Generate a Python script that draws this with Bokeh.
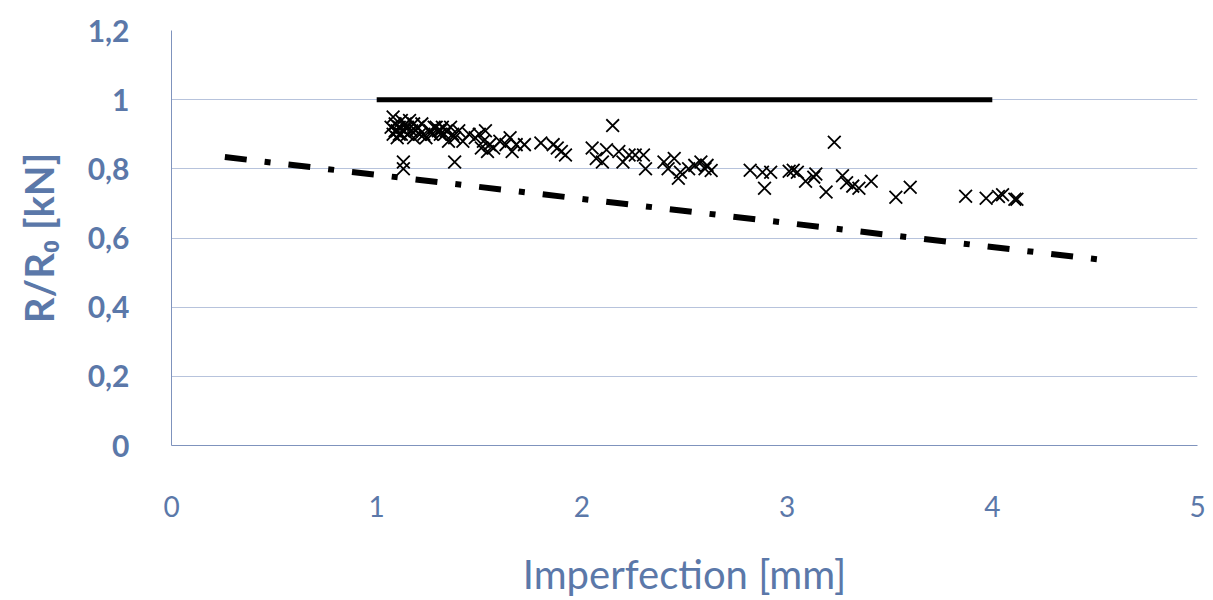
from bokeh.plotting import figure
from bokeh.models import FixedTicker, Range1d
from bokeh.embed import file_html
from bokeh.resources import INLINE

# Measured test specimens: imperfection [mm] vs. normalised resistance R/R0
imperfection = [
    1.07, 1.08, 1.08, 1.09, 1.10, 1.10, 1.11, 1.12, 1.12, 1.13, 1.14, 1.15,
    1.15, 1.16, 1.17, 1.18, 1.18, 1.20, 1.21, 1.22, 1.24, 1.26, 1.27, 1.28,
    1.30, 1.31, 1.32, 1.33, 1.34, 1.35, 1.36, 1.38, 1.40, 1.42, 1.45, 1.48,
    1.50, 1.51, 1.52, 1.53, 1.54, 1.55, 1.57, 1.60, 1.63, 1.65, 1.66, 1.68,
    1.72, 1.13, 1.13, 1.38, 1.09, 1.11, 1.14, 1.19, 1.23, 1.29, 1.31, 1.37,
    1.80, 1.86, 1.88, 1.90, 1.92, 2.05, 2.07, 2.10, 2.12, 2.15, 2.18, 2.20,
    2.23, 2.26, 2.30, 2.31, 2.40, 2.42, 2.45, 2.47, 2.48, 2.52, 2.55, 2.58,
    2.60, 2.61, 2.63, 2.82, 2.88, 2.89, 2.92, 3.01, 3.03, 3.05, 3.09, 3.13,
    3.14, 3.19, 3.23, 3.27, 3.29, 3.32, 3.35, 3.41, 3.53, 3.60, 3.87, 3.97,
    4.03, 4.05, 4.11, 4.12,
]
resistance = [
    0.92, 0.95, 0.90, 0.93, 0.91, 0.89, 0.92, 0.90, 0.94, 0.91, 0.93, 0.90,
    0.92, 0.94, 0.91, 0.89, 0.93, 0.92, 0.90, 0.93, 0.89, 0.91, 0.90, 0.92,
    0.91, 0.90, 0.92, 0.90, 0.91, 0.88, 0.92, 0.89, 0.91, 0.88, 0.90, 0.89,
    0.90, 0.86, 0.88, 0.91, 0.85, 0.87, 0.86, 0.88, 0.87, 0.89, 0.85, 0.87,
    0.87, 0.82, 0.80, 0.82, 0.91, 0.90, 0.92, 0.91, 0.90, 0.92, 0.91, 0.90,
    0.875, 0.87, 0.86, 0.85, 0.84, 0.86, 0.83, 0.82, 0.855, 0.925, 0.85, 0.82,
    0.84, 0.84, 0.84, 0.80, 0.82, 0.80, 0.83, 0.773, 0.79, 0.80, 0.81, 0.82,
    0.80, 0.81, 0.795, 0.796, 0.79, 0.744, 0.79, 0.793, 0.796, 0.79, 0.764, 0.776,
    0.785, 0.733, 0.877, 0.78, 0.76, 0.75, 0.744, 0.764, 0.718, 0.747, 0.721, 0.715,
    0.72, 0.725, 0.712, 0.712,
]

# Reference level R/R0 = 1
ref_x = [1.0, 4.0]
ref_y = [1.0, 1.0]

# Design curve
design_x = [0.26, 4.53]
design_y = [0.834, 0.537]

x_ticks = [0, 1, 2, 3, 4, 5]
y_ticks = [0, 0.2, 0.4, 0.6, 0.8, 1.0, 1.2]
y_tick_labels = ["0", "0,2", "0,4", "0,6", "0,8", "1", "1,2"]

axis_color = "#5b78a9"
font = "Lato"

p = figure(
    width=1213, height=600,
    output_backend="svg", toolbar_location=None,
    x_range=Range1d(0, 5), y_range=Range1d(0, 1.2),
    min_border_left=171, min_border_right=16,
    min_border_top=30, min_border_bottom=149,
)
p.outline_line_color = None
p.background_fill_color = "white"
p.border_fill_color = "white"

p.xgrid.grid_line_color = None
p.ygrid.grid_line_color = "#b7c3dc"
p.ygrid.grid_line_width = 1
p.ygrid.ticker = FixedTicker(ticks=y_ticks)

p.xaxis.ticker = FixedTicker(ticks=x_ticks)
p.yaxis.ticker = FixedTicker(ticks=y_ticks)
p.yaxis.major_label_overrides = {t: l for t, l in zip(y_ticks, y_tick_labels)}

for ax in (p.xaxis[0], p.yaxis[0]):
    ax.axis_line_color = "#7f93bd"
    ax.axis_line_width = 1
    ax.major_tick_line_color = None
    ax.minor_tick_line_color = None
    ax.major_label_text_color = axis_color
    ax.major_label_text_font = font
    ax.axis_label_text_color = axis_color
    ax.axis_label_text_font = font

p.xaxis.major_label_text_font_size = "28px"
p.yaxis.major_label_text_font_size = "30px"
p.yaxis.major_label_text_font_style = "bold"
p.xaxis.axis_label_text_font_size = "40px"
p.xaxis.axis_label_text_font_style = "normal"
p.yaxis.axis_label_text_font_size = "40px"
p.yaxis.axis_label_text_font_style = "bold"

p.xaxis.major_label_standoff = 44
p.yaxis.major_label_standoff = 36
p.xaxis.axis_label = "Imperfection [mm]"
p.yaxis.axis_label = "R/R\u2080 [kN]"
p.xaxis.axis_label_standoff = 30
p.yaxis.axis_label_standoff = 22

p.line(ref_x, ref_y, line_color="black", line_width=5)
p.line(design_x, design_y, line_color="black", line_width=6,
       line_dash="22 18 6 18")
p.scatter(imperfection, resistance, marker="x", size=18,
          line_color="black", line_width=1.8)

open("out.html", "w").write(file_html(p, INLINE))
